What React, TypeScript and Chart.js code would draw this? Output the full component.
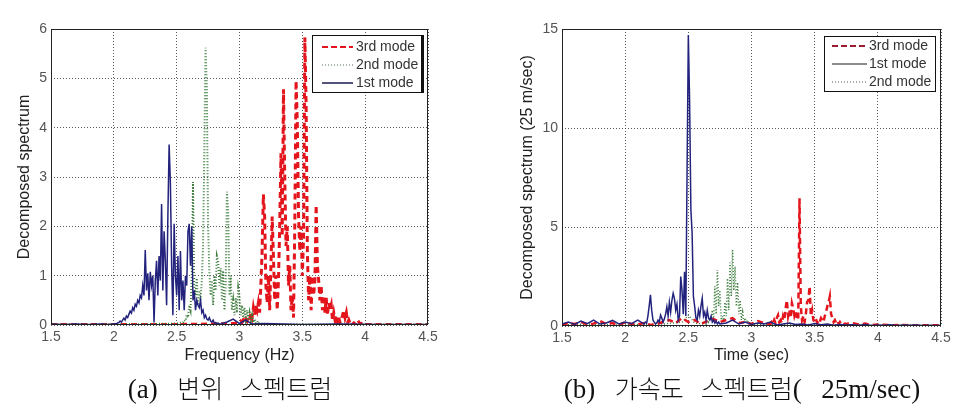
import React, { useEffect, useRef } from 'react';
import { Chart, registerables } from 'chart.js';

Chart.register(...registerables);

// ---------- (a) displacement spectrum ----------
const dispStep = 0.01;

const disp1stLeadX = [1.5, 1.6, 1.7, 1.8, 1.9];
const disp1stLeadY = [0.02, 0.01, 0.02, 0.01, 0.02];
const disp1stStart = 1.95;
const disp1stVals = [
  0.01, 0.01, 0.02, 0.01, 0.02, 0.02, 0.03, 0.02, 0.04, 0.05,
  0.08, 0.06, 0.1, 0.14, 0.1, 0.18, 0.15, 0.22, 0.28, 0.24,
  0.35, 0.3, 0.42, 0.38, 0.5, 0.45, 0.6, 0.55, 0.8, 0.6,
  1.52, 0.7, 1.05, 0.5, 1.08, 0.8, 1.0, 0.05, 0.9, 1.3,
  0.6, 1.4, 0.9, 2.45, 0.7, 1.9, 1.3, 0.4, 2.2, 3.66,
  2.88, 1.2, 0.2, 2.05, 1.0, 0.6, 1.4, 0.3, 1.5, 0.5,
  0.9, 0.3, 1.0, 0.8, 1.9, 2.05, 1.2, 2.0, 0.5, 0.7,
  0.3, 0.5, 0.4, 0.35, 0.5, 0.25, 0.3, 0.15, 0.2, 0.12,
  0.1, 0.15, 0.08, 0.06, 0.1, 0.04, 0.05, 0.03, 0.04, 0.02,
  0.02,
];
const disp1stTailX = [2.9, 2.95, 3.0, 3.05, 3.1, 3.2, 3.5, 3.8, 4.1, 4.5];
const disp1stTailY = [0.06, 0.12, 0.03, 0.1, 0.02, 0.03, 0.01, 0.02, 0.01, 0.01];

const disp2ndLeadX = [1.5, 2.0, 2.3, 2.5];
const disp2ndLeadY = [0.01, 0.01, 0.02, 0.03];
const disp2ndStart = 2.55;
const disp2ndVals = [
  0.05, 0.1, 0.08, 0.2, 0.15, 0.4, 0.3, 1.0, 2.9, 0.8,
  0.6, 0.95, 0.4, 0.7, 0.5, 0.9, 1.6, 3.5, 5.62, 4.8,
  2.0, 1.1, 0.6, 0.9, 0.4, 1.0, 0.7, 1.4, 1.3, 0.8,
  1.15, 0.5, 1.1, 0.3, 0.8, 2.7, 2.3, 0.6, 1.0, 0.3,
  0.5, 0.2, 0.55, 0.25, 0.75, 0.6, 0.2, 0.4, 0.15, 0.35,
  0.1, 0.3, 0.1, 0.25, 0.08, 0.2, 0.05, 0.12, 0.04, 0.08,
  0.03, 0.05, 0.02, 0.03, 0.01, 0.02,
];
const disp2ndTailX = [3.3, 3.6, 4.0, 4.5];
const disp2ndTailY = [0.01, 0.01, 0.01, 0.01];

const disp3rdLeadX = [1.5, 2.0, 2.5, 2.8, 2.95];
const disp3rdLeadY = [0.01, 0.01, 0.01, 0.02, 0.03];
const disp3rdStart = 3.0;
const disp3rdVals = [
  0.05, 0.08, 0.05, 0.1, 0.06, 0.12, 0.08, 0.15, 0.1, 0.25,
  0.15, 0.35, 0.2, 0.4, 0.3, 0.45, 0.25, 0.8, 1.5, 2.65,
  2.2, 0.8, 0.45, 1.0, 0.3, 1.2, 2.2, 1.4, 0.5, 1.0,
  0.3, 0.9, 2.0, 3.48, 1.8, 4.78, 3.0, 1.6, 2.0, 0.8,
  1.2, 0.3, 0.6, 0.15, 2.0, 4.95, 4.1, 2.2, 1.5, 2.0,
  1.0, 1.8, 5.83, 4.5, 1.5, 0.5, 1.0, 0.3, 1.0, 0.6,
  0.9, 2.43, 1.2, 0.9, 0.5, 0.8, 0.3, 0.6, 0.25, 0.55,
  0.2, 0.45, 0.3, 0.4, 0.1, 0.25, 0.1, 0.2, 0.05, 0.15,
  0.05, 0.1, 0.2, 0.3, 0.15, 0.25, 0.05, 0.1, 0.03, 0.06,
  0.02, 0.04, 0.02, 0.08, 0.1, 0.06, 0.02, 0.03, 0.01, 0.02,
  0.01,
];
const disp3rdTailX = [4.1, 4.3, 4.5];
const disp3rdTailY = [0.01, 0.01, 0.01];

// ---------- (b) acceleration spectrum ----------
const acc1stLeadX = [1.5, 1.55, 1.6, 1.65, 1.7, 1.75, 1.8, 1.85, 1.9, 1.95, 2.0, 2.05, 2.1];
const acc1stLeadY = [0.1, 0.2, 0.08, 0.25, 0.12, 0.3, 0.1, 0.15, 0.28, 0.1, 0.2, 0.12, 0.3];
const acc1stStart = 2.15;
const acc1stVals = [
  0.1, 0.2, 0.15, 0.5, 1.0, 1.57, 0.8, 0.3, 0.2, 0.1,
  0.15, 0.3, 0.2, 0.55, 0.4, 0.2, 0.35, 0.6, 0.97, 0.5,
  1.2, 0.7, 1.3, 1.65, 1.4, 0.8, 1.1, 0.3, 0.5, 2.5,
  1.8, 0.6, 2.74, 0.5, 7.8, 14.7, 11.4, 5.9, 4.7, 1.5,
  1.0, 0.4, 0.3, 0.8, 0.5, 1.0, 1.4, 0.5, 0.7, 0.3,
  0.8, 0.4, 0.3, 0.5, 0.2, 0.3, 0.15, 0.25, 0.1, 0.2,
  0.1,
];
const acc1stTailX = [
  2.8, 2.85, 2.9, 2.95, 3.0, 3.05, 3.1, 3.15, 3.2, 3.25, 3.3, 3.35, 3.4, 3.45, 3.5, 3.55, 3.6, 3.65,
  3.7, 3.75, 3.8, 3.85, 3.9, 3.95, 4.0, 4.05, 4.1, 4.15, 4.2, 4.25, 4.3, 4.35, 4.4, 4.45, 4.5,
];
const acc1stTailY = [
  0.15, 0.3, 0.1, 0.2, 0.08, 0.15, 0.1, 0.2, 0.05, 0.1, 0.15, 0.08, 0.1, 0.05, 0.12, 0.06, 0.1, 0.04,
  0.08, 0.05, 0.06, 0.04, 0.07, 0.03, 0.05, 0.04, 0.06, 0.03, 0.05, 0.04, 0.05, 0.03, 0.04, 0.03, 0.04,
];

const acc2ndLeadX = [1.5, 1.7, 1.9, 2.1, 2.3, 2.45, 2.5, 2.55];
const acc2ndLeadY = [0.05, 0.1, 0.05, 0.08, 0.1, 0.2, 0.55, 0.15];
const acc2ndStart = 2.62;
const acc2ndVals = [
  0.1, 0.2, 0.1, 0.3, 0.2, 0.4, 0.3, 0.8, 0.3, 2.0,
  0.6, 2.83, 1.0, 1.8, 0.3, 0.5, 0.2, 1.2, 0.5, 2.4,
  0.8, 3.2, 1.5, 3.85, 1.8, 3.0, 1.0, 2.2, 0.6, 1.3,
  0.3, 0.7, 0.2, 0.4, 0.15, 0.3, 0.1, 0.2, 0.08, 0.15,
  0.05,
];
const acc2ndTailX = [3.1, 3.2, 3.4, 3.6, 3.8, 4.0, 4.3, 4.5];
const acc2ndTailY = [0.1, 0.05, 0.08, 0.05, 0.06, 0.03, 0.04, 0.03];

const acc3rdLeadX = [
  1.5, 1.55, 1.6, 1.65, 1.7, 1.75, 1.8, 1.85, 1.9, 1.95, 2.0, 2.05, 2.1, 2.15, 2.2, 2.25, 2.3,
  2.35, 2.4, 2.45, 2.5, 2.55, 2.6, 2.65, 2.7, 2.75, 2.8, 2.85, 2.9, 2.95, 3.0, 3.05, 3.1,
];
const acc3rdLeadY = [
  0.05, 0.15, 0.1, 0.2, 0.08, 0.12, 0.25, 0.1, 0.15, 0.05, 0.2, 0.1, 0.08, 0.15, 0.05, 0.1, 0.2,
  0.3, 0.15, 0.4, 0.2, 0.3, 0.1, 0.25, 0.35, 0.2, 0.3, 0.4, 0.15, 0.2, 0.1, 0.25, 0.15,
];
const acc3rdStart = 3.15;
const acc3rdVals = [
  0.1, 0.2, 0.1, 0.3, 0.15, 0.4, 0.55, 0.2, 0.3, 0.15,
  0.5, 0.3, 0.9, 1.3, 0.5, 0.8, 0.4, 1.15, 0.9, 0.5,
  0.7, 0.4, 0.3, 6.45, 1.0, 0.3, 0.5, 0.2, 0.6, 1.2,
  1.3, 2.0, 0.5, 0.8, 0.3, 0.2, 0.35, 0.15, 0.3, 0.2,
  0.4, 0.3, 0.2, 0.5, 0.7, 1.0, 1.2, 1.5, 0.6, 0.4,
  0.2, 0.3, 0.15, 0.25, 0.1, 0.2, 0.1, 0.15, 0.08, 0.12,
  0.1,
];
const acc3rdTailX = [3.8, 3.85, 3.9, 3.95, 4.0, 4.1, 4.2, 4.3, 4.4, 4.5];
const acc3rdTailY = [0.15, 0.08, 0.12, 0.05, 0.08, 0.04, 0.05, 0.03, 0.04, 0.03];

const freqTicks = [1.5, 2, 2.5, 3, 3.5, 4, 4.5];

function series(leadX: number[], leadY: number[], start: number, vals: number[], tailX: number[], tailY: number[]) {
  const pts: { x: number; y: number }[] = [];
  leadX.forEach((x, i) => pts.push({ x, y: leadY[i] }));
  vals.forEach((y, i) => pts.push({ x: +(start + i * dispStep).toFixed(3), y }));
  tailX.forEach((x, i) => pts.push({ x, y: tailY[i] }));
  return pts;
}

const boxLegend = {
  id: 'boxLegend',
  afterDraw(chart: any, _args: any, opts: any) {
    const { ctx, chartArea } = chart;
    ctx.save();
    ctx.setLineDash([]);
    ctx.strokeStyle = '#222';
    ctx.lineWidth = 1;
    ctx.strokeRect(
      Math.round(chartArea.left) + 0.5,
      Math.round(chartArea.top) + 0.5,
      Math.round(chartArea.right - chartArea.left) - 1,
      Math.round(chartArea.bottom - chartArea.top) - 1
    );
    const x = Math.round(chartArea.right - opts.offsetRight - opts.width);
    const y = Math.round(chartArea.top + opts.offsetTop);
    ctx.fillStyle = '#fff';
    ctx.fillRect(x, y, opts.width, opts.height);
    ctx.strokeStyle = '#111';
    ctx.lineWidth = 1;
    ctx.strokeRect(x + 0.5, y + 0.5, opts.width - 1, opts.height - 1);
    if (opts.thickRight) {
      ctx.lineWidth = 3;
      ctx.beginPath();
      ctx.moveTo(x + opts.width - 1.5, y);
      ctx.lineTo(x + opts.width - 1.5, y + opts.height);
      ctx.stroke();
    }
    opts.order.forEach((dsIndex: number, row: number) => {
      const ds = chart.data.datasets[dsIndex];
      const cy = y + opts.rowTop + row * opts.rowGap;
      ctx.beginPath();
      ctx.setLineDash(ds.legendDash || ds.borderDash || []);
      ctx.strokeStyle = ds.legendColor || ds.borderColor;
      ctx.lineWidth = ds.legendWidth || ds.borderWidth;
      ctx.moveTo(x + opts.sampleStart, cy);
      ctx.lineTo(x + opts.sampleEnd, cy);
      ctx.stroke();
      ctx.setLineDash([]);
      ctx.fillStyle = '#333';
      ctx.font = '14px "Liberation Sans", Arial, sans-serif';
      ctx.textBaseline = 'middle';
      ctx.textAlign = 'left';
      ctx.fillText(ds.label, x + opts.textStart, cy);
    });
    ctx.restore();
  },
};

const tickFont = { family: '"Liberation Sans", Arial, sans-serif', size: 14 };
const titleFont = { family: '"Liberation Sans", Arial, sans-serif', size: 16 };

function makeConfig(p: any) {
  return {
    type: 'line',
    data: { datasets: p.datasets },
    options: {
      animation: false,
      responsive: false,
      maintainAspectRatio: false,
      parsing: false,
      layout: { padding: { left: 0, top: p.padTop, right: p.padRight, bottom: 0 } },
      elements: { point: { radius: 0 }, line: { tension: 0 } },
      plugins: { legend: { display: false }, tooltip: { enabled: false }, boxLegend: p.legend },
      scales: {
        x: {
          type: 'linear',
          min: 1.5,
          max: 4.5,
          afterFit: (s: any) => { s.height = p.xHeight; },
          afterBuildTicks: (s: any) => { s.ticks = freqTicks.map((v) => ({ value: v })); },
          ticks: { font: tickFont, color: '#555', padding: 4, maxRotation: 0, autoSkip: false, callback: (v: any) => String(v) },
          grid: { color: 'rgba(60,60,60,0.85)', lineWidth: 1, drawTicks: false },
          border: { display: false, dash: [1, 2] },
          title: { display: true, text: p.xTitle, font: titleFont, color: '#222', padding: { top: 0, bottom: p.xTitlePad } },
        },
        y: {
          type: 'linear',
          min: 0,
          max: p.yMax,
          afterFit: (s: any) => { s.width = p.yWidth; },
          ticks: { stepSize: p.yStep, font: tickFont, color: '#555', padding: 4, callback: (v: any) => String(v) },
          grid: { color: 'rgba(60,60,60,0.85)', lineWidth: 1, drawTicks: false },
          border: { display: false, dash: [1, 2] },
          title: { display: true, text: p.yTitle, font: titleFont, color: '#222', padding: { top: p.yTitlePad, bottom: 0 } },
        },
      },
    },
    plugins: [boxLegend],
  } as any;
}

function ChartCanvas({ config, left, width, height }: any) {
  const ref = useRef<HTMLCanvasElement>(null);
  useEffect(() => {
    const chart = new Chart(ref.current as HTMLCanvasElement, config);
    return () => chart.destroy();
  }, []);
  return (
    <canvas
      ref={ref}
      width={width}
      height={height}
      style={{ position: 'absolute', left, top: 0, width, height }}
    />
  );
}

const red = '#e3141c';
const green = '#3d7d3d';
const navy = '#23237e';

const dispConfig = makeConfig({
  padTop: 29,
  padRight: 52,
  yWidth: 51,
  xHeight: 45,
  xTitle: 'Frequency (Hz)',
  yTitle: 'Decomposed spectrum',
  xTitlePad: 4.4,
  yTitlePad: 15.4,
  yMax: 6,
  yStep: 1,
  legend: {
    offsetRight: 4, offsetTop: 6, width: 112, height: 58,
    rowTop: 12, rowGap: 18, sampleStart: 10, sampleEnd: 41, textStart: 44,
    order: [0, 1, 2], thickRight: true,
  },
  datasets: [
    {
      label: '3rd mode',
      data: series(disp3rdLeadX, disp3rdLeadY, disp3rdStart, disp3rdVals, disp3rdTailX, disp3rdTailY),
      borderColor: red, borderWidth: 3, borderDash: [6, 4], order: 2,
      legendWidth: 2, legendDash: [6, 3],
    },
    {
      label: '2nd mode',
      data: series(disp2ndLeadX, disp2ndLeadY, disp2ndStart, disp2ndVals, disp2ndTailX, disp2ndTailY),
      borderColor: green, borderWidth: 2, borderDash: [1, 2], order: 1,
      legendColor: '#8aa08a', legendWidth: 1.5,
    },
    {
      label: '1st mode',
      data: series(disp1stLeadX, disp1stLeadY, disp1stStart, disp1stVals, disp1stTailX, disp1stTailY),
      borderColor: navy, borderWidth: 1.5, order: 0,
      legendColor: '#1a1a50',
    },
  ],
});

const accConfig = makeConfig({
  padTop: 29,
  padRight: 22,
  yWidth: 82,
  xHeight: 44,
  xTitle: 'Time (sec)',
  yTitle: 'Decomposed spectrum (25 m/sec)',
  xTitlePad: 4.4,
  yTitlePad: 38.4,
  yMax: 15,
  yStep: 5,
  legend: {
    offsetRight: 5, offsetTop: 7, width: 112, height: 56,
    rowTop: 10, rowGap: 18, sampleStart: 8, sampleEnd: 43, textStart: 45,
    order: [0, 1, 2], thickRight: false,
  },
  datasets: [
    {
      label: '3rd mode',
      data: series(acc3rdLeadX, acc3rdLeadY, acc3rdStart, acc3rdVals, acc3rdTailX, acc3rdTailY),
      borderColor: red, borderWidth: 2.5, borderDash: [6, 4], order: 1,
      legendColor: '#9b1b30', legendWidth: 2, legendDash: [6, 3],
    },
    {
      label: '1st mode',
      data: series(acc1stLeadX, acc1stLeadY, acc1stStart, acc1stVals, acc1stTailX, acc1stTailY),
      borderColor: navy, borderWidth: 1.5, order: 0,
      legendColor: '#666', legendWidth: 1.5,
    },
    {
      label: '2nd mode',
      data: series(acc2ndLeadX, acc2ndLeadY, acc2ndStart, acc2ndVals, acc2ndTailX, acc2ndTailY),
      borderColor: green, borderWidth: 1.5, borderDash: [1, 2], order: 2,
      legendColor: '#555', legendWidth: 1,
    },
  ],
});

const captionStyle: React.CSSProperties = {
  position: 'absolute',
  top: 372,
  height: 30,
  lineHeight: '30px',
  fontFamily: '"Noto Sans CJK KR", sans-serif',
  fontWeight: 300,
  fontSize: 25,
  color: '#111',
  textAlign: 'center',
  whiteSpace: 'pre',
  wordSpacing: 3,
};

const latin: React.CSSProperties = {
  fontFamily: '"Liberation Serif", serif',
  fontWeight: 400,
  fontSize: 27,
};

export default function App() {
  return (
    <div style={{ position: 'absolute', left: 0, top: 0, width: 963, height: 417, background: '#fff', overflow: 'hidden' }}>
      <ChartCanvas config={dispConfig} left={0} width={480} height={370} />
      <ChartCanvas config={accConfig} left={480} width={483} height={370} />
      <div style={{ ...captionStyle, left: 80, width: 300 }}>
        <span style={latin}>(a)  </span>변위  스펙트럼
      </div>
      <div style={{ ...captionStyle, left: 492, width: 500 }}>
        <span style={latin}>(b)  </span>가속도  스펙트럼<span style={latin}>(  25m/sec)</span>
      </div>
    </div>
  );
}
